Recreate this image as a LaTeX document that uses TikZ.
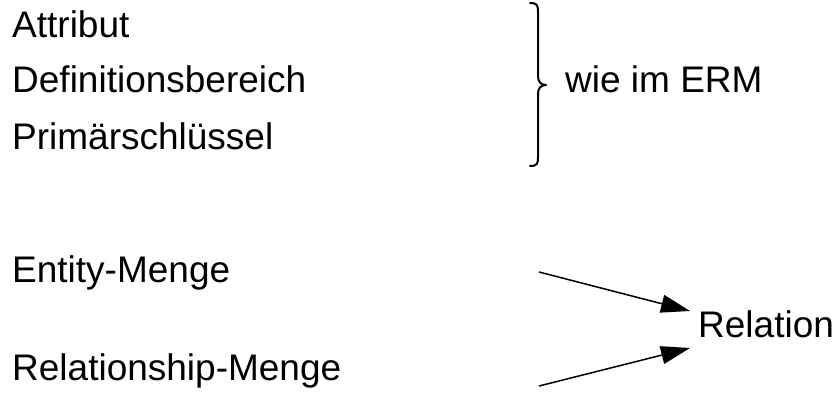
\documentclass[tikz,border=0pt]{standalone}
\usepackage{fontspec}
\setmainfont{Liberation Sans}
\usetikzlibrary{arrows.meta}
\begin{document}
\begin{tikzpicture}[x=1pt,y=-1pt,
  lbl/.style={anchor=base west,inner sep=0pt,font=\fontsize{37}{42}\selectfont},
  arr/.style={line width=1.5pt,-{Triangle[length=29pt,width=18pt]}},
  brc/.style={line width=2pt,line cap=round,line join=round}]
\useasboundingbox (0,0) rectangle (834,401);
\node[lbl] (attr) at (12,38) {Attribut};
\node[lbl] (def) at (12,93) {Definitionsbereich};
\node[lbl] (pk) at (12,149) {Primärschlüssel};
\node[lbl] (erm) at (565,93) {wie im ERM};
\node[lbl] (ent) at (12,282) {Entity-Menge};
\node[lbl] (rel) at (12,380) {Relationship-Menge};
\node[lbl] (relation) at (698,337) {Relation};
\draw[brc] (530,3) .. controls (537,3) and (538,5) .. (538,12)
  -- (538,76) .. controls (538,82) and (541,85) .. (546,85)
  .. controls (541,85) and (538,88) .. (538,94)
  -- (538,157) .. controls (538,164) and (537,166) .. (530,166);
\coordinate (a1) at (539,272);
\coordinate (e1) at (690,311);
\coordinate (a2) at (539,386);
\coordinate (e2) at (690,348);
\draw[arr] (a1) -- (e1);
\draw[arr] (a2) -- (e2);
\end{tikzpicture}
\end{document}
